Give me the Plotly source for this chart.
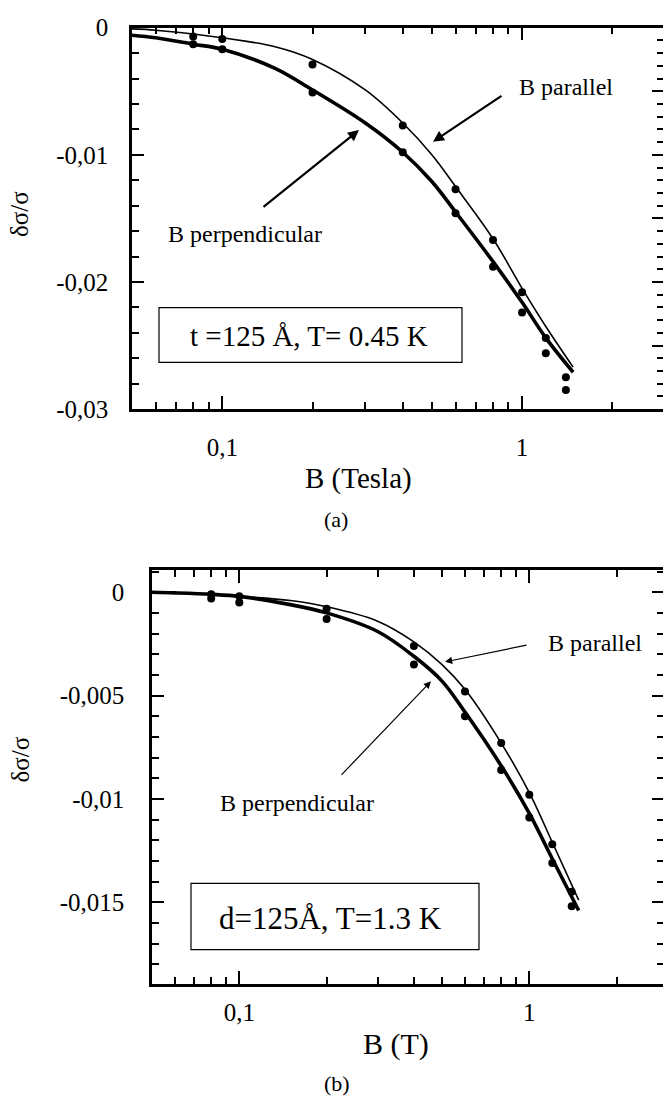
import math
import plotly.graph_objects as go

W, H = 663, 1111

# ---------------- data ----------------
B_curve = [0.05, 0.06, 0.08, 0.1, 0.15, 0.2, 0.3, 0.4, 0.5, 0.6, 0.8, 1.0, 1.2, 1.48]
B_pts = [0.08, 0.1, 0.2, 0.4, 0.6, 0.8, 1.0, 1.2, 1.4]

# panel (a): t = 125 A, T = 0.45 K
a_par_curve = [-0.0001, -0.0002, -0.0005, -0.0008, -0.0015, -0.0025, -0.0049, -0.0075,
               -0.0100, -0.0125, -0.0166, -0.0205, -0.0235, -0.0267]
a_perp_curve = [-0.0006, -0.0008, -0.0013, -0.0017, -0.0032, -0.0049, -0.0075, -0.0098,
                -0.0121, -0.0145, -0.0184, -0.0216, -0.0244, -0.0271]
a_par_pts = [-0.0007, -0.0009, -0.0029, -0.0077, -0.0127, -0.0167, -0.0208, -0.0244, -0.0275]
a_perp_pts = [-0.0013, -0.0017, -0.0051, -0.0098, -0.0146, -0.0188, -0.0224, -0.0256, -0.0285]

# panel (b): d = 125 A, T = 1.3 K
b_par_curve = [0.0, -0.00003, -0.0001, -0.0002, -0.0004, -0.0007, -0.0014, -0.0024,
               -0.0035, -0.0047, -0.0073, -0.0097, -0.0121, -0.0149]
b_perp_curve = [0.0, -0.00003, -0.0001, -0.0002, -0.0006, -0.0010, -0.0019, -0.0031,
                -0.0043, -0.0058, -0.0084, -0.0107, -0.0129, -0.0154]
b_par_pts = [-0.0001, -0.0002, -0.0008, -0.0026, -0.0048, -0.0073, -0.0098, -0.0122, -0.0145]
b_perp_pts = [-0.0003, -0.0005, -0.0013, -0.0035, -0.0060, -0.0086, -0.0109, -0.0131, -0.0152]

x_tickvals = [0.1, 1]
x_ticktext = ["0,1", "1"]
x_minor = [0.06, 0.07, 0.08, 0.09, 0.2, 0.3, 0.4, 0.5, 0.6, 0.7, 0.8, 0.9, 2]

a_ytickvals = [0, -0.01, -0.02, -0.03]
a_yticktext = ["0", "-0,01", "-0,02", "-0,03"]
b_ytickvals = [0, -0.005, -0.01, -0.015]
b_yticktext = ["0", "-0,005", "-0,01", "-0,015"]

FONT = "Liberation Serif"


def px(x):
    return x / W


def py(y):
    return 1 - y / H


fig = go.Figure()


def add_panel(xa, ya, curve_par, curve_perp, pts_par, pts_perp):
    fig.add_trace(go.Scatter(x=B_curve, y=curve_par, mode="lines", xaxis=xa, yaxis=ya,
                             line=dict(color="black", width=1.6, shape="spline"),
                             showlegend=False, hoverinfo="skip"))
    fig.add_trace(go.Scatter(x=B_curve, y=curve_perp, mode="lines", xaxis=xa, yaxis=ya,
                             line=dict(color="black", width=3.6, shape="spline"),
                             showlegend=False, hoverinfo="skip"))
    fig.add_trace(go.Scatter(x=B_pts, y=pts_par, mode="markers", xaxis=xa, yaxis=ya,
                             marker=dict(color="black", size=8),
                             showlegend=False, hoverinfo="skip"))
    fig.add_trace(go.Scatter(x=B_pts, y=pts_perp, mode="markers", xaxis=xa, yaxis=ya,
                             marker=dict(color="black", size=8),
                             showlegend=False, hoverinfo="skip"))


add_panel("x", "y", a_par_curve, a_perp_curve, a_par_pts, a_perp_pts)
add_panel("x2", "y2", b_par_curve, b_perp_curve, b_par_pts, b_perp_pts)
# invisible carriers for the right-hand tick axes
fig.add_trace(go.Scatter(x=[B_curve[0]], y=[a_par_curve[0]], xaxis="x", yaxis="y3",
                         mode="markers", marker=dict(opacity=0), showlegend=False, hoverinfo="skip"))
fig.add_trace(go.Scatter(x=[B_curve[0]], y=[b_par_curve[0]], xaxis="x2", yaxis="y4",
                         mode="markers", marker=dict(opacity=0), showlegend=False, hoverinfo="skip"))

tickfont = dict(family=FONT, size=25, color="black")


def xaxis_cfg(domain, rng, anchor, standoff):
    return dict(type="log", domain=domain, range=rng, anchor=anchor,
                showline=True, linewidth=2.5, linecolor="black", mirror="ticks",
                ticks="inside", ticklen=13, tickwidth=2, tickcolor="black",
                tickvals=x_tickvals, ticktext=x_ticktext, tickfont=tickfont,
                ticklabelstandoff=standoff,
                minor=dict(tickmode="array", tickvals=x_minor, ticks="inside",
                           ticklen=7, tickwidth=1.8, tickcolor="black"),
                showgrid=False, zeroline=False)


def yaxis_cfg(domain, rng, anchor, tv, tt, minor_dtick, standoff):
    return dict(domain=domain, range=rng, anchor=anchor,
                showline=True, linewidth=2.5, linecolor="black", mirror=False,
                ticks="inside", ticklen=12, tickwidth=2, tickcolor="black",
                tickvals=tv, ticktext=tt, tickfont=tickfont, ticklabelstandoff=standoff,
                minor=dict(dtick=minor_dtick, tick0=0, ticks="inside", ticklen=7,
                           tickwidth=1.8, tickcolor="black"),
                showgrid=False, zeroline=False)


def yright_cfg(over, anchor, rng, major, minor_dtick):
    return dict(overlaying=over, side="right", anchor=anchor, range=rng,
                showline=False, ticks="inside", ticklen=11, tickwidth=2,
                tickcolor="black", tickmode="linear", tick0=0, dtick=major,
                showticklabels=False, showgrid=False, zeroline=False,
                minor=dict(dtick=minor_dtick, tick0=0, ticks="inside", ticklen=6,
                           tickwidth=1.8, tickcolor="black"))


a_xr = [math.log10(0.05), 0.47]
a_yr = [-0.03, 0.0]
b_xr = [math.log10(0.05), 0.461]
b_yr = [-0.01895, 0.00107]

fig.update_layout(
    width=W, height=H, margin=dict(l=0, r=0, t=0, b=0),
    paper_bgcolor="white", plot_bgcolor="white",
    font=dict(family=FONT, color="black"),
    xaxis=xaxis_cfg([px(132), 1.0], a_xr, "y", 14),
    yaxis=yaxis_cfg([py(406), py(15)], a_yr, "x", a_ytickvals, a_yticktext, 0.002, 16),
    yaxis3=yright_cfg("y", "x", a_yr, 0.005, 0.001),
    xaxis2=xaxis_cfg([px(152), 1.0], b_xr, "y2", 4),
    yaxis2=yaxis_cfg([py(995), py(571)], b_yr, "x2", b_ytickvals, b_yticktext, 0.001, 20),
    yaxis4=yright_cfg("y2", "x2", b_yr, 0.005, 0.001),
)

ann = []


def text(x, y, s, size, angle=0):
    ann.append(dict(x=px(x), y=py(y), xref="paper", yref="paper", text=s, showarrow=False,
                    textangle=angle, xanchor="center", yanchor="middle",
                    font=dict(family=FONT, size=size, color="black")))


def arrow(tip, tail, width, head, size):
    ann.append(dict(x=px(tip[0]), y=py(tip[1]), xref="paper", yref="paper", text="",
                    showarrow=True, axref="pixel", ayref="pixel",
                    ax=tail[0] - tip[0], ay=tail[1] - tip[1],
                    arrowhead=head, arrowsize=size, arrowwidth=width, arrowcolor="black"))


# panel (a)
text(566, 76, "B parallel", 24)
arrow((433, 132), (503, 85), 2.2, 2, 1.0)
text(245, 226, "B perpendicular", 24)
arrow((359, 120), (262, 198), 2.2, 2, 1.0)
text(309, 331, "t =125 Å, T= 0.45 K", 29)
text(20, 206, "δσ/σ", 25, -90)
text(358, 477, "B (Tesla)", 29)
text(336, 519, "(a)", 22)

# panel (b)
text(595, 646, "B parallel", 24)
arrow((445, 665), (528, 648), 1.2, 2, 1.2)
text(297, 810, "B perpendicular", 24)
arrow((431, 685), (340, 780), 1.2, 2, 1.2)
text(330, 928, "d=125Å, T=1.3 K", 31)
text(20, 765, "δσ/σ", 25, -90)
text(396, 1057, "B (T)", 30)
text(337, 1097, "(b)", 22)

fig.update_layout(annotations=ann)

fig.update_layout(shapes=[
    dict(type="rect", xref="paper", yref="paper", x0=px(159), x1=px(462),
         y0=py(358), y1=py(302), line=dict(color="black", width=1.2)),
    dict(type="rect", xref="paper", yref="paper", x0=px(191), x1=px(479),
         y0=py(960), y1=py(892), line=dict(color="black", width=1.2)),
])

fig.write_html("out.html")
